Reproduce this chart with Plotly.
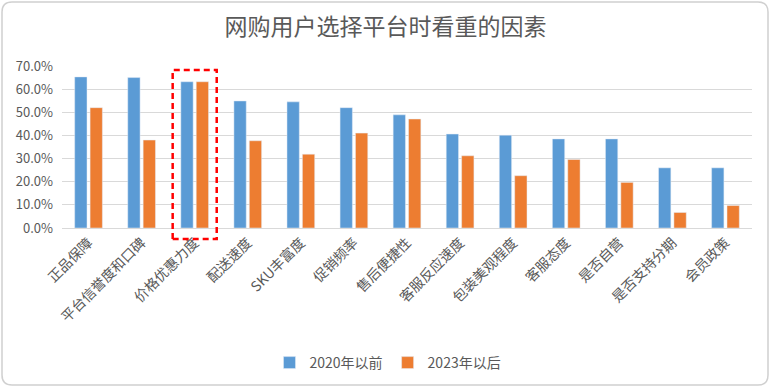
import plotly.graph_objects as go

categories = ["正品保障", "平台信誉度和口碑", "价格优惠力度", "配送速度", "SKU丰富度", "促销频率",
              "售后便捷性", "客服反应速度", "包装美观程度", "客服态度", "是否自营", "是否支持分期", "会员政策"]
before_2020 = [0.653, 0.650, 0.632, 0.549, 0.545, 0.520, 0.489, 0.406, 0.401, 0.385, 0.385, 0.260, 0.260]
after_2023 = [0.520, 0.380, 0.632, 0.377, 0.319, 0.410, 0.471, 0.312, 0.226, 0.296, 0.197, 0.067, 0.097]
series_names = ["2020年以前", "2023年以后"]
y_ticks = [0, 0.1, 0.2, 0.3, 0.4, 0.5, 0.6, 0.7]

W, H = 771, 389
ML, MR, MT, MB = 62, 19, 66, 161
PW, PH = W - ML - MR, H - MT - MB

def px(x):
    return (x - ML) / PW

def py(y):
    return (H - MB - y) / PH

FONT = "Noto Sans CJK SC, Noto Sans, sans-serif"
GREY = "#595959"

fig = go.Figure()
fig.add_trace(go.Bar(x=categories, y=before_2020, name=series_names[0], marker_color="#5B9BD5"))
fig.add_trace(go.Bar(x=categories, y=after_2023, name=series_names[1], marker_color="#ED7D31"))

# rounded border around the whole chart
x0, x1, y0, y1, r = 2, 768, 2, 385, 10
path = (f"M {px(x0 + r)},{py(y0)} L {px(x1 - r)},{py(y0)} "
        f"Q {px(x1)},{py(y0)} {px(x1)},{py(y0 + r)} L {px(x1)},{py(y1 - r)} "
        f"Q {px(x1)},{py(y1)} {px(x1 - r)},{py(y1)} L {px(x0 + r)},{py(y1)} "
        f"Q {px(x0)},{py(y1)} {px(x0)},{py(y1 - r)} L {px(x0)},{py(y0 + r)} "
        f"Q {px(x0)},{py(y0)} {px(x0 + r)},{py(y0)} Z")
fig.add_shape(type="path", path=path, xref="paper", yref="paper",
              line=dict(color="#D0D0D0", width=1.5), layer="below")

# red dashed highlight box
hi = categories.index("价格优惠力度")
fig.add_shape(type="rect", xref="x", yref="paper", x0=hi - 0.415, x1=hi + 0.415,
              y0=py(239), y1=py(70), line=dict(color="#FF0000", width=2.5, dash="6px,4px"),
              fillcolor="rgba(0,0,0,0)", layer="above")

fig.update_layout(
    width=W, height=H,
    margin=dict(l=ML, r=MR, t=MT, b=MB),
    paper_bgcolor="white", plot_bgcolor="white",
    font=dict(family=FONT, color=GREY),
    title=dict(text="网购用户选择平台时看重的因素", x=0.5, xanchor="center",
               y=1 - 27 / H, yanchor="middle", yref="container",
               font=dict(size=23, color=GREY, family=FONT)),
    barmode="group", bargap=0.42, bargroupgap=0.2,
    legend=dict(orientation="h", x=388 / W, xanchor="center", xref="container",
                y=1 - 363 / H, yanchor="middle", yref="container",
                font=dict(size=14, color=GREY), itemwidth=30, tracegroupgap=0),
    xaxis=dict(tickangle=-45, tickfont=dict(size=14, color=GREY), showline=True,
               linecolor="#D9D9D9", ticks=""),
    yaxis=dict(range=[0, 0.7], tickvals=y_ticks, tickformat=".1%", gridcolor="#D9D9D9",
               zeroline=False, tickfont=dict(size=13, color=GREY), ticks="",
               ticklabelstandoff=8),
)

fig.write_html("out.html", config={"displayModeBar": False},
               post_script="document.body.style.margin='0px';document.body.style.overflow='hidden';")
